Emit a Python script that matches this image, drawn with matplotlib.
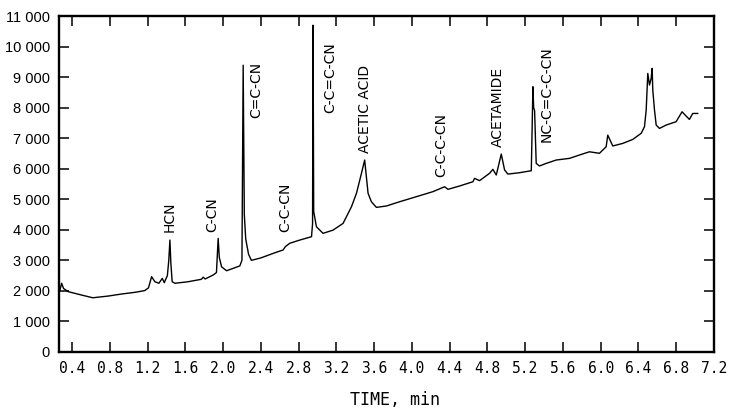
import numpy as np
import matplotlib
matplotlib.use("Agg")
import matplotlib.pyplot as plt

# chromatogram trace
time = [0.27, 0.29, 0.31, 0.36, 0.50, 0.62, 0.78, 0.93, 1.07, 1.17, 1.21, 1.243, 1.278, 1.32,
        1.356, 1.377, 1.41, 1.425, 1.437, 1.447, 1.461, 1.49, 1.63, 1.77, 1.79, 1.81, 1.895,
        1.93, 1.948, 1.96, 1.984, 2.037, 2.10, 2.178, 2.200, 2.213, 2.225, 2.24, 2.27, 2.30,
        2.40, 2.55, 2.636, 2.66, 2.707, 2.813, 2.937, 2.948, 2.953, 2.96, 2.989, 3.059, 3.165,
        3.271, 3.36, 3.413, 3.466, 3.50, 3.536, 3.571, 3.624, 3.73, 3.871, 4.048, 4.223, 4.347,
        4.382, 4.506, 4.647, 4.664, 4.717, 4.823, 4.858, 4.894, 4.947, 4.982, 5.017, 5.141,
        5.265, 5.275, 5.282, 5.29, 5.30, 5.317, 5.352, 5.423, 5.529, 5.670, 5.776, 5.881, 5.987,
        6.058, 6.075, 6.128, 6.234, 6.340, 6.429, 6.464, 6.482, 6.499, 6.517, 6.535, 6.545,
        6.552, 6.570, 6.588, 6.623, 6.693, 6.799, 6.862, 6.905, 6.940, 6.975, 7.028]
signal = [2000, 2250, 2080, 1975, 1865, 1775, 1830, 1900, 1955, 2010, 2100, 2465, 2300, 2250,
          2410, 2270, 2500, 3000, 3665, 2900, 2300, 2250, 2300, 2380, 2450, 2390, 2520,
          2600, 3720, 3100, 2790, 2660, 2730, 2820, 3000, 9390, 4500, 3700, 3200, 3000,
          3080, 3250, 3340, 3450, 3560, 3665, 3775, 4200, 10700, 4600, 4100, 3885, 3990,
          4210, 4755, 5195, 5850, 6285, 5195, 4920, 4735, 4780, 4920, 5085, 5250, 5410,
          5325, 5435, 5575, 5685, 5610, 5850, 5980, 5795, 6480, 5960, 5825, 5870,
          5935, 7500, 8685, 8000, 7900, 6175, 6090, 6175, 6285, 6340, 6450, 6555, 6505,
          6720, 7100, 6745, 6830, 6960, 7160, 7375, 7920, 9120, 8740, 8960, 9285,
          8575, 7920, 7430, 7320, 7430, 7540, 7865, 7725, 7615, 7810, 7810]

peak_names = ['HCN', 'C-CN', 'C=C-CN', 'C-C-CN', 'C-C=C-CN', 'ACETIC ACID',
              'C-C-C-CN', 'ACETAMIDE', 'NC-C=C-C-CN']
peak_x = [1.437, 1.89, 2.354, 2.654, 3.14, 3.50, 4.315, 4.91, 5.43]
peak_y = [3930, 3930, 7660, 3930, 7820, 6515, 5730, 6710, 6870]

xticks = np.round(np.arange(0.4, 7.21, 0.4), 1)
yticks = np.arange(0, 11001, 1000)

fig = plt.figure(figsize=(7.31, 4.11), dpi=100)
ax = fig.add_axes([0.0807, 0.1436, 0.896, 0.8174])

ax.plot(time, signal, color='black', linewidth=1.0)

for name, x, y in zip(peak_names, peak_x, peak_y):
    ax.text(x, y, name, rotation=90, ha='center', va='bottom', fontsize=10,
            family=['DejaVu Sans'])

ax.set_xlim(0.262, 7.2)
ax.set_ylim(0, 11000)
ax.set_xticks(xticks)
ax.set_xticklabels(['%.1f' % t for t in xticks], family=['DejaVu Sans Mono'], fontsize=10.5)
ax.set_yticks(yticks)
ax.set_yticklabels([('{:,}'.format(v)).replace(',', ' ') for v in yticks],
                   family=['Liberation Sans'], fontsize=10.5)
ax.tick_params(direction='in', length=7.5, width=1.1, top=True, right=True, pad=6.5)
for s in ax.spines.values():
    s.set_linewidth(1.7)

fig.text(395 / 731, 1 - 400 / 411, 'TIME, min', ha='center', va='center',
         family=['DejaVu Sans Mono'], fontsize=12)

fig.savefig('out.png', dpi=100)
